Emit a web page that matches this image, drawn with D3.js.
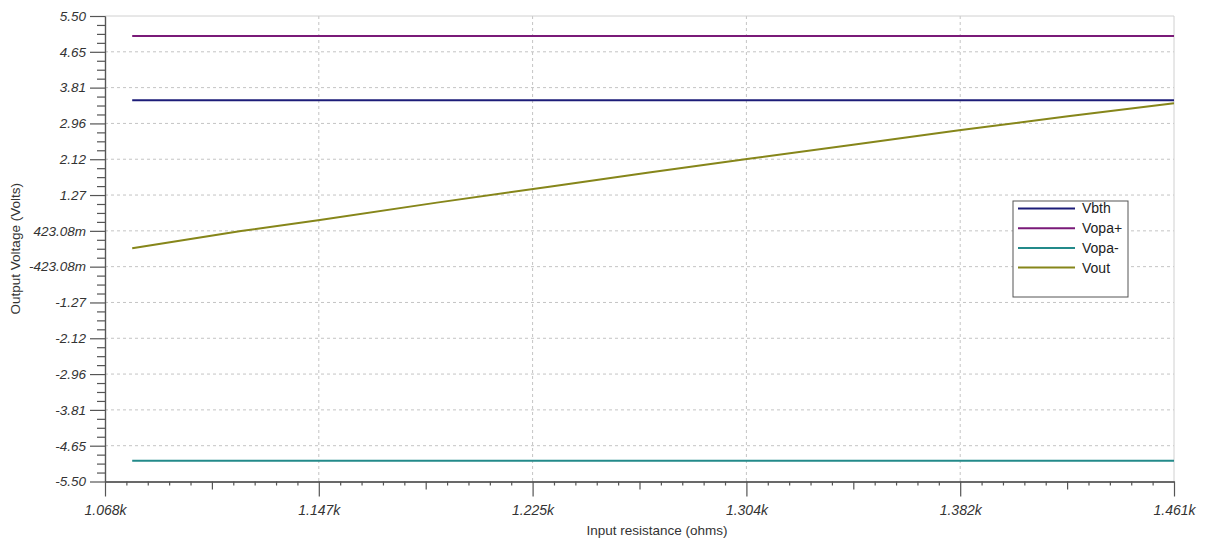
<!DOCTYPE html>
<html>
<head>
<meta charset="utf-8">
<script src="https://cdn.jsdelivr.net/npm/d3@7/dist/d3.min.js"></script>
<style>
  html, body { margin: 0; padding: 0; background: #ffffff; }
  svg { display: block; font-family: "Liberation Sans", Arial, sans-serif; }
</style>
</head>
<body>
<svg id="chart" width="1220" height="540"></svg>
<script>
// ---------- data ----------
const xDomain = [1068, 1461];
const yDomain = [-5.5, 5.5];
const xTickLabels = ["1.068k", "1.147k", "1.225k", "1.304k", "1.382k", "1.461k"];
const yTickLabels = ["5.50", "4.65", "3.81", "2.96", "2.12", "1.27", "423.08m",
  "-423.08m", "-1.27", "-2.12", "-2.96", "-3.81", "-4.65", "-5.50"];

const seriesNames = ["Vbth", "Vopa+", "Vopa-", "Vout"];
const seriesColors = ["#1c1c78", "#7a1a78", "#238a8a", "#86861a"];

const xStart = 1078, xEnd = 1461;
const vbth = [[xStart, 3.51], [xEnd, 3.51]];
const vopaPlus = [[xStart, 5.03], [xEnd, 5.03]];
const vopaMinus = [[xStart, -5.01], [xEnd, -5.01]];
const voutR = [1078, 1118, 1147, 1190, 1232, 1268, 1304, 1343, 1382, 1422, 1461];
const voutV = [0.01, 0.42, 0.68, 1.09, 1.47, 1.80, 2.12, 2.46, 2.80, 3.13, 3.44];
const vout = voutR.map((r, i) => [r, voutV[i]]);
const seriesData = [vbth, vopaPlus, vopaMinus, vout];

// ---------- layout ----------
const L = 105, R = 1174, T = 16, B = 481.5;
const svg = d3.select("#chart");
const x = d3.scaleLinear().domain(xDomain).range([L, R]);
const y = d3.scaleLinear().domain(yDomain).range([B, T]);

const xMajor = d3.range(xTickLabels.length).map(i => xDomain[0] + i * (xDomain[1] - xDomain[0]) / (xTickLabels.length - 1));
const yMajor = d3.range(yTickLabels.length).map(i => yDomain[1] - i * (yDomain[1] - yDomain[0]) / (yTickLabels.length - 1));

const xStep = (xDomain[1] - xDomain[0]) / (xTickLabels.length - 1);
const xMinor = [], xMid = [];
xMajor.slice(0, -1).forEach(v => {
  for (let k = 1; k < 10; k++) (k === 5 ? xMid : xMinor).push(v + k * xStep / 10);
});
const yStep = (yDomain[1] - yDomain[0]) / (yTickLabels.length - 1);
const yMinor = [];
yMajor.slice(1).forEach(v => { for (let k = 1; k < 4; k++) yMinor.push(v + k * yStep / 4); });

// ---------- grid ----------
const grid = svg.append("g");
grid.selectAll("line.gx").data(xMajor.slice(1, -1)).join("line")
  .attr("x1", d => x(d)).attr("x2", d => x(d)).attr("y1", T).attr("y2", B)
  .attr("stroke", "#c4c4c4").attr("stroke-dasharray", "3,3").attr("stroke-width", 1);
grid.selectAll("line.gy").data(yMajor.slice(1, -1)).join("line")
  .attr("x1", L).attr("x2", R).attr("y1", d => y(d)).attr("y2", d => y(d))
  .attr("stroke", "#c4c4c4").attr("stroke-dasharray", "3,3").attr("stroke-width", 1);
grid.append("line").attr("x1", L).attr("x2", R).attr("y1", T).attr("y2", T)
  .attr("stroke", "#d0d0d0").attr("stroke-width", 1);
grid.append("line").attr("x1", R).attr("x2", R).attr("y1", T).attr("y2", B)
  .attr("stroke", "#d0d0d0").attr("stroke-width", 1);

// ---------- axes ----------
const axisColor = "#555555";
function styleAxis(g) {
  g.select(".domain").attr("stroke", axisColor).attr("stroke-width", 1.2);
  g.selectAll(".tick line").attr("stroke", axisColor).attr("stroke-width", 1.2);
}
const yAxis = svg.append("g").attr("transform", `translate(${L},0)`)
  .call(d3.axisLeft(y).tickValues(yMajor).tickFormat((d, i) => yTickLabels[i]).tickSize(15).tickPadding(4).tickSizeOuter(0));
styleAxis(yAxis);
yAxis.selectAll("text").style("font-size", "13.5px").style("font-style", "italic").style("fill", "#333")
  .style("font-family", "'Liberation Sans', Arial, sans-serif");
const yAxisMinor = svg.append("g").attr("transform", `translate(${L},0)`)
  .call(d3.axisLeft(y).tickValues(yMinor).tickFormat("").tickSize(8).tickSizeOuter(0));
styleAxis(yAxisMinor);

const xAxis = svg.append("g").attr("transform", `translate(0,${B})`)
  .call(d3.axisBottom(x).tickValues(xMajor).tickFormat((d, i) => xTickLabels[i]).tickSize(15).tickPadding(9).tickSizeOuter(0));
styleAxis(xAxis);
xAxis.selectAll("text").style("font-size", "14px").style("font-style", "italic").style("fill", "#333")
  .style("font-family", "'Liberation Sans', Arial, sans-serif");
const xAxisMinor = svg.append("g").attr("transform", `translate(0,${B})`)
  .call(d3.axisBottom(x).tickValues(xMinor).tickFormat("").tickSize(4).tickSizeOuter(0));
styleAxis(xAxisMinor);
const xAxisMid = svg.append("g").attr("transform", `translate(0,${B})`)
  .call(d3.axisBottom(x).tickValues(xMid).tickFormat("").tickSize(8).tickSizeOuter(0));
styleAxis(xAxisMid);

// axis titles
svg.append("text").attr("x", 657).attr("y", 535).attr("text-anchor", "middle")
  .style("font-size", "13.5px").style("fill", "#333").text("Input resistance (ohms)");
svg.append("text").attr("transform", `translate(20,${(T + B) / 2}) rotate(-90)`)
  .attr("text-anchor", "middle").style("font-size", "13.5px").style("fill", "#333").text("Output Voltage (Volts)");

// ---------- series ----------
const line = d3.line().x(d => x(d[0])).y(d => y(d[1]));
svg.append("g").selectAll("path").data(seriesData).join("path")
  .attr("d", line).attr("fill", "none")
  .attr("stroke", (d, i) => seriesColors[i]).attr("stroke-width", 2);

// ---------- legend ----------
const lg = svg.append("g").attr("transform", "translate(1013,201)");
lg.append("rect").attr("x", 0).attr("y", 0).attr("width", 115).attr("height", 96)
  .attr("fill", "#fff").attr("stroke", "#555").attr("stroke-width", 1);
seriesNames.forEach((name, i) => {
  const yy = 7.5 + i * 19.7;
  lg.append("line").attr("x1", 5).attr("x2", 62).attr("y1", yy).attr("y2", yy)
    .attr("stroke", seriesColors[i]).attr("stroke-width", 2);
  lg.append("text").attr("x", 69).attr("y", yy).attr("dy", "0.35em")
    .style("font-size", "14px").style("fill", "#222").text(name);
});
</script>
</body>
</html>
